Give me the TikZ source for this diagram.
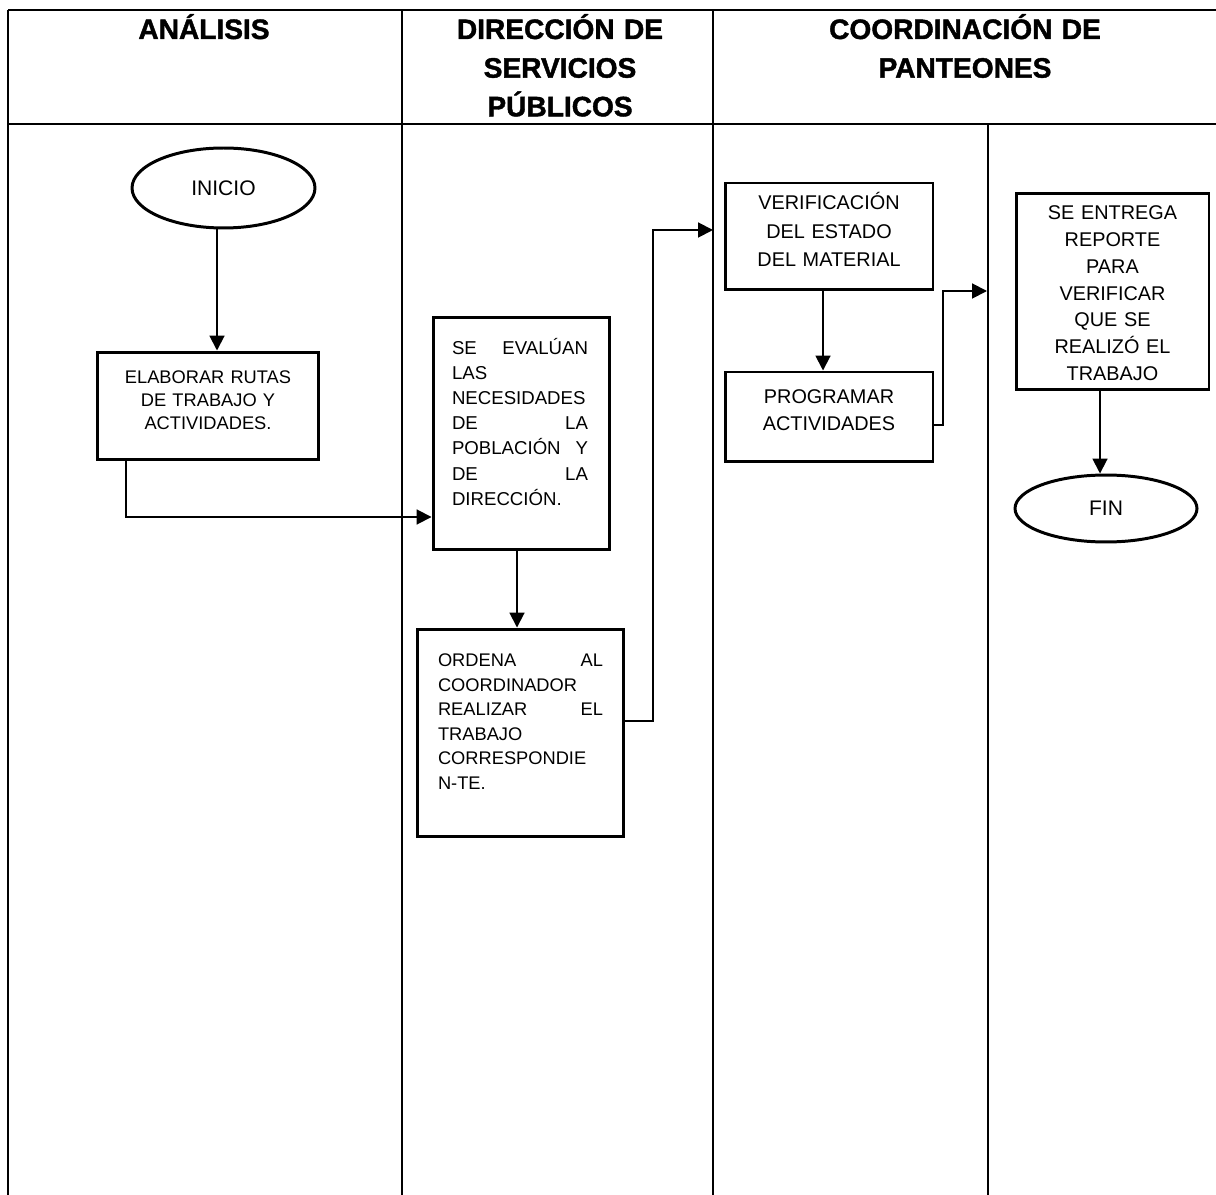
\documentclass[tikz,border=0pt]{standalone}
\usepackage{fontspec}
\setmainfont{Liberation Sans}
\newfontfamily\headfont{Liberation Sans}[BoldFeatures={FakeBold=1.5}]
\usetikzlibrary{arrows.meta,shapes.geometric}

\begin{document}
\begin{tikzpicture}[x=0.02cm,y=-0.02cm,
  lane/.style={line width=1.1pt},
  headline/.style={line width=1.6pt},
  head/.style={font=\headfont\bfseries\fontsize{16}{22}\selectfont,text width=6cm,align=center,anchor=base,inner sep=0pt},
  procbox/.style={draw,line width=1.7pt,inner sep=0pt},
  endpoint/.style={draw,ellipse,line width=1.7pt,inner sep=0pt,font=\fontsize{12}{14}\selectfont},
  boxtext/.style args={#1/#2}{inner sep=0pt,anchor=base,font=\fontsize{#1}{#2}\selectfont},
  flow/.style={-{Triangle[length=8.5pt,width=8.5pt]},line width=1.1pt}]

  \useasboundingbox (0,0) rectangle (1216,1195);

  % swimlanes
  \draw[headline] (8,10) -- (1216,10);
  \draw[headline] (8,124) -- (1216,124);
  \draw[lane] (8,10) -- (8,1195);
  \draw[lane] (402,10) -- (402,1195);
  \draw[lane] (713,10) -- (713,1195);
  \draw[lane] (988,124) -- (988,1195);

  \node[head] (analisis) at (204,39) {ANÁLISIS};
  \node[head] (direccion) at (560,39) {DIRECCIÓN DE\\SERVICIOS\\PÚBLICOS};
  \node[head] (coordina) at (965,39) {COORDINACIÓN DE\\PANTEONES};

  % steps
  \node[endpoint,minimum width=3.66cm,minimum height=1.6cm] (inicio) at (223.5,188) {INICIO};

  \node[procbox,minimum width=4.44cm,minimum height=2.16cm] (elabora) at (208,406) {};
  \node[boxtext=10.4/13.1,text width=4cm,align=center] (elaboratxt) at (208,383.5) {ELABORAR RUTAS\\DE TRABAJO Y\\ACTIVIDADES.};

  \node[procbox,minimum width=3.54cm,minimum height=4.66cm] (evalua) at (521.5,433.5) {};
  \node[boxtext=10.6/14.3,text width=2.72cm,align=left] (evaluatxt) at (520,354.5)
    {SE\hfill EVALÚAN\\ LAS\\ NECESIDADES\\ DE\hfill LA\\ POBLACIÓN\hfill Y\\ DE\hfill LA\\ DIRECCIÓN.};

  \node[procbox,minimum width=4.14cm,minimum height=4.16cm] (ordena) at (520.5,733) {};
  \node[boxtext=10.4/14,text width=3.3cm,align=left] (ordenatxt) at (520.5,666.5)
    {ORDENA\hfill AL\\ COORDINADOR\\ REALIZAR\hfill EL\\ TRABAJO\\ CORRESPONDIE\\ N-TE.};

  \node[procbox,minimum width=4.16cm,minimum height=2.14cm] (verifica) at (829,236.5) {};
  \node[boxtext=11.3/16,text width=3.8cm,align=center] (verificatxt) at (829,210) {VERIFICACIÓN\\DEL ESTADO\\DEL MATERIAL};

  \node[procbox,minimum width=4.16cm,minimum height=1.8cm] (programa) at (829,417) {};
  \node[boxtext=11.3/14.8,text width=3.8cm,align=center] (programatxt) at (829,404) {PROGRAMAR\\ACTIVIDADES};

  \node[procbox,minimum width=3.86cm,minimum height=3.94cm] (entrega) at (1112.5,291.5) {};
  \node[boxtext=11.3/15.2,text width=3.5cm,align=center] (entregatxt) at (1112.5,220)
    {SE ENTREGA\\REPORTE\\PARA\\VERIFICAR\\QUE SE\\REALIZÓ EL\\TRABAJO};

  \node[endpoint,minimum width=3.64cm,minimum height=1.34cm] (fin) at (1106,508.5) {FIN};

  % bends of the connectors
  \coordinate (e1) at (126,517);
  \coordinate (o1) at (653,721);
  \coordinate (o2) at (653,230);
  \coordinate (o3) at (713,230);
  \coordinate (p1) at (943,425);
  \coordinate (p2) at (943,291);
  \coordinate (p3) at (987,291);

  \draw[flow] ([xshift=-0.13cm]inicio.south) -- ([xshift=-0.13cm]inicio.south |- elabora.north);
  \draw[flow] (elabora.south -| e1) -- (e1) -- (e1 -| evalua.west);
  \draw[flow] ([xshift=-0.09cm]evalua.south) -- ([xshift=-0.09cm]evalua.south |- ordena.north);
  \draw[flow] (ordena.east |- o1) -- (o1) -- (o2) -- (o3);
  \draw[flow] ([xshift=-0.12cm]verifica.south) -- ([xshift=-0.12cm]verifica.south |- programa.north);
  \draw[flow] (programa.east |- p1) -- (p1) -- (p2) -- (p3);
  \draw[flow] ([xshift=-0.12cm]fin.north |- entrega.south) -- ([xshift=-0.12cm]fin.north);
\end{tikzpicture}
\end{document}
